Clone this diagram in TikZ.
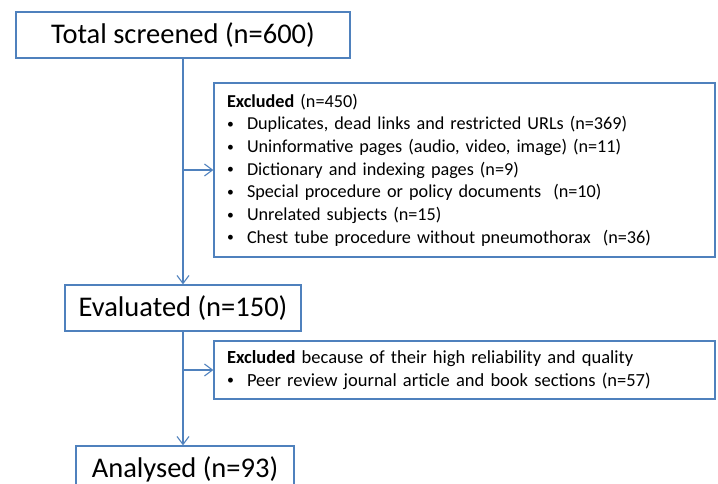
\documentclass[tikz,border=0pt]{standalone}
\usepackage{fontspec}
\setmainfont{Carlito}
\usetikzlibrary{arrows.meta}
\definecolor{flowblue}{RGB}{79,129,189}
\newcommand{\bul}[1]{\makebox[20pt][l]{\raisebox{0.15ex}{\scalebox{0.75}{\textbullet}}}#1}

\begin{document}
\begin{tikzpicture}[x=1pt, y=-1pt,
		stage/.style={draw=flowblue, line width=1.2pt, inner sep=0pt, font=\fontsize{28.5}{32}\selectfont},
		exclbox/.style={draw=flowblue, line width=1.2pt, inner sep=0pt, minimum width=501pt, text width=475pt, align=left, font=\fontsize{18.2}{22.7}\selectfont},
		flow/.style={draw=flowblue, line width=1.1pt, -{Straight Barb[length=8pt,width=12pt]}}]
	\useasboundingbox (0,0) rectangle (718,484);
	
	\node[stage, minimum width=334pt, minimum height=46pt] (total) at (183,35) {Total screened (n=600)};
	\node[exclbox, minimum height=174pt] (excl1) at (464.5,170) {\textbf{Excluded} (n=450)\\
		\bul{Duplicates, dead links and restricted URLs (n=369)}\\
		\bul{Uninformative pages (audio, video, image) (n=11)}\\
		\bul{Dictionary and indexing pages (n=9)}\\
		\bul{Special procedure or policy documents~ (n=10)}\\
		\bul{Unrelated subjects (n=15)}\\
		\bul{Chest tube procedure without pneumothorax~ (n=36)}};
	
	\node[stage, minimum width=236pt, minimum height=46pt] (eval) at (183,308) {Evaluated (n=150)};
	\node[exclbox, minimum height=58pt, font=\fontsize{18.5}{22.7}\selectfont] (excl2) at (464.5,370) {\textbf{Excluded} because of their high reliability and quality\\
		\bul{Peer review journal article and book sections (n=57)}};
	\node[stage, minimum width=218pt, minimum height=46pt] (anal) at (185,469) {Analysed (n=93)};
	
	% spine with side branches
	\coordinate (split1) at (total.south |- excl1.west);
	\coordinate (split2) at (eval.south |- excl2.west);
	\draw[flow] (total.south) -- (total.south |- eval.north);
	\draw[flow] (split1) -- (excl1.west);
	\draw[flow] (eval.south) -- (eval.south |- anal.north);
	\draw[flow] (split2) -- (excl2.west);
\end{tikzpicture}
\end{document}
